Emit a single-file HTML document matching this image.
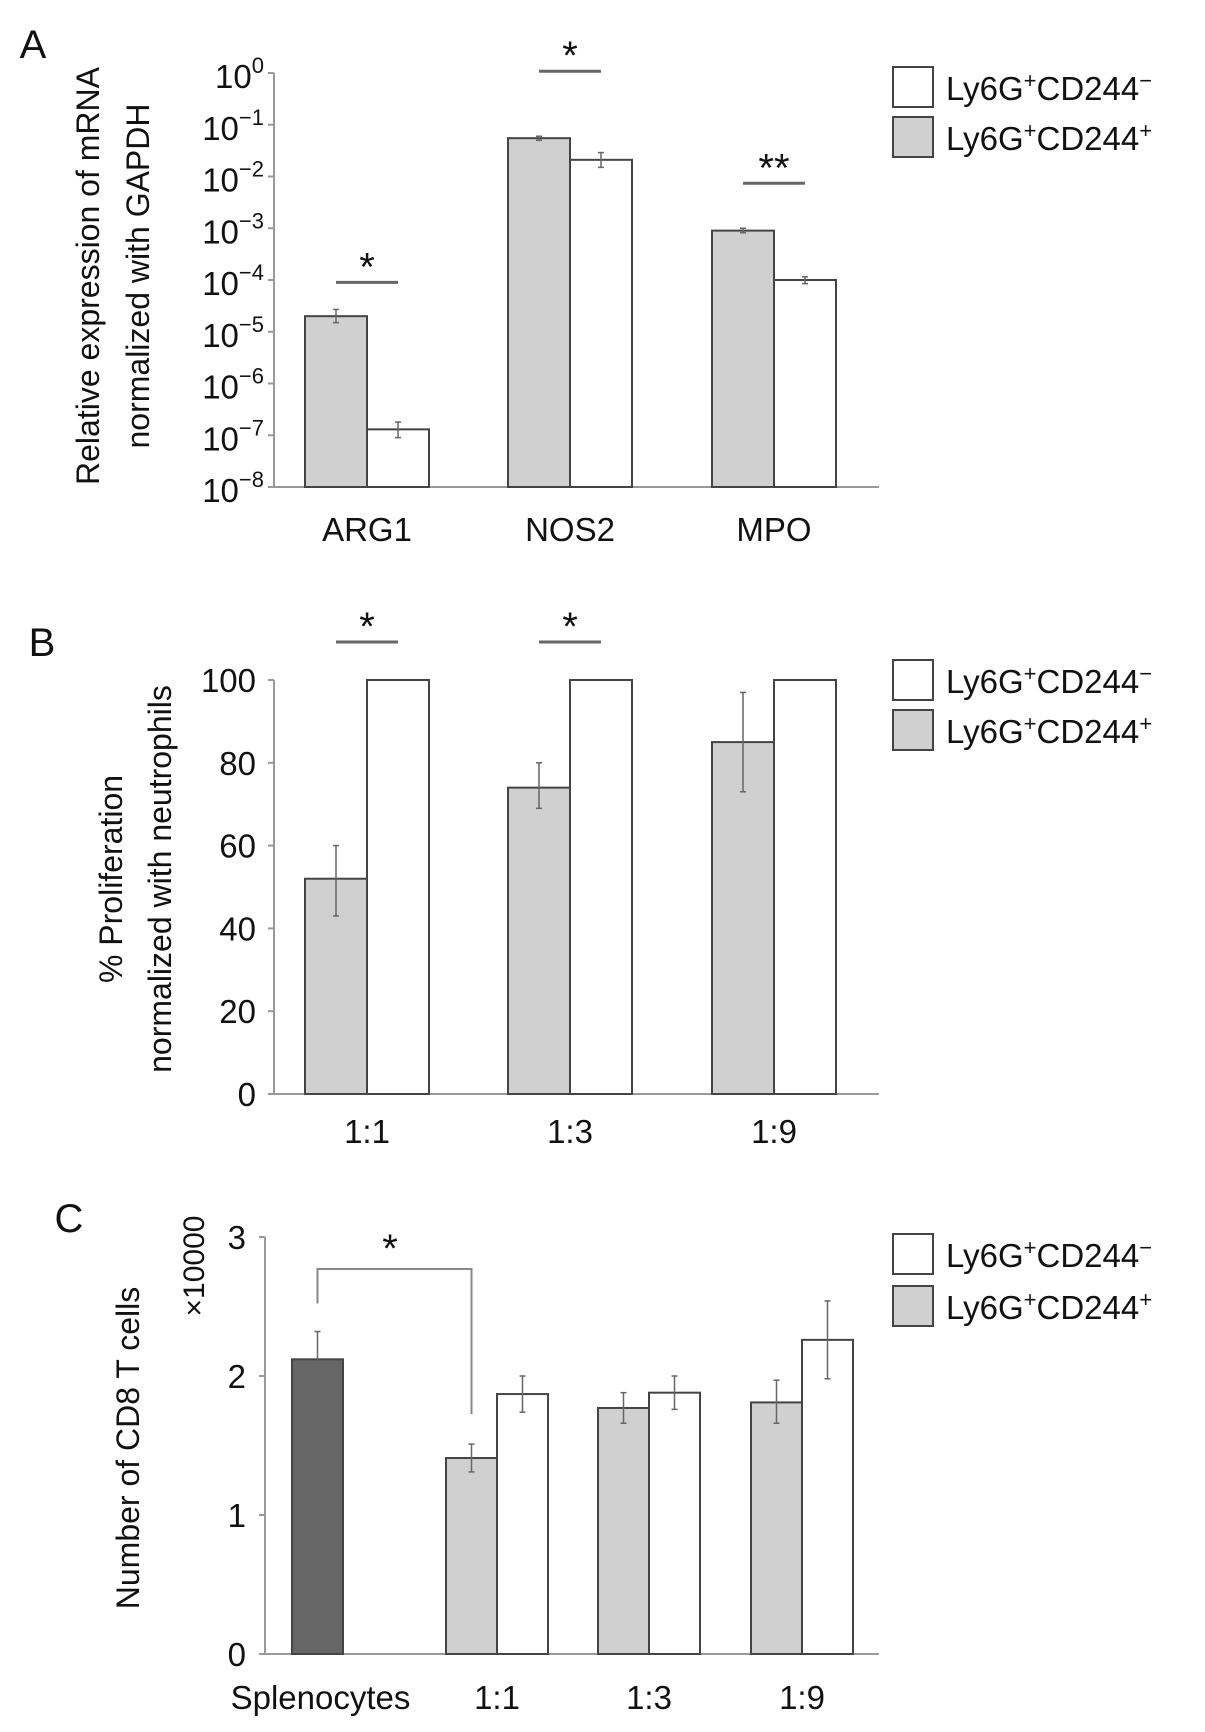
<!DOCTYPE html>
<html><head><meta charset="utf-8"><style>
html,body{margin:0;padding:0;background:#fff}
svg{display:block;font-family:"Liberation Sans",Arial,sans-serif}
</style></head><body>
<svg id="fig" width="1205" height="1732" viewBox="0 0 1205 1732" xmlns="http://www.w3.org/2000/svg"></svg>
<script>
// ---- Panel A data (log scale) ----
const aCats = ["ARG1","NOS2","MPO"];
const aPos = [2e-5, 0.055, 9e-4];
const aPosLo = [1.5e-5, 0.05, 8.2e-4];
const aPosHi = [2.7e-5, 0.06, 1.0e-3];
const aNeg = [1.3e-7, 0.021, 1.0e-4];
const aNegLo = [0.9e-7, 0.015, 0.85e-4];
const aNegHi = [1.8e-7, 0.029, 1.15e-4];
const aTickExp = [0,-1,-2,-3,-4,-5,-6,-7,-8];
const aSig = ["*","*","**"];
// ---- Panel B data ----
const bCats = ["1:1","1:3","1:9"];
const bPos = [52, 74, 85];
const bPosLo = [43, 69, 73];
const bPosHi = [60, 80, 97];
const bNeg = [100, 100, 100];
const bTicks = [0,20,40,60,80,100];
const bSig = ["*","*",""];
// ---- Panel C data ----
const cCats = ["Splenocytes","1:1","1:3","1:9"];
const cCtrl = 2.12, cCtrlLo = 1.93, cCtrlHi = 2.32;
const cPos = [1.41, 1.77, 1.81];
const cPosLo = [1.31, 1.66, 1.66];
const cPosHi = [1.51, 1.88, 1.97];
const cNeg = [1.87, 1.88, 2.26];
const cNegLo = [1.74, 1.76, 1.98];
const cNegHi = [2.0, 2.0, 2.54];
const cTicks = [0,1,2,3];

const svg = document.getElementById('fig');
const NS = "http://www.w3.org/2000/svg";
function mk(tag, at, parent){const e=document.createElementNS(NS,tag);for(const k in at)e.setAttribute(k,at[k]);(parent||svg).appendChild(e);return e;}
function txt(x,y,s,size,anchor,name,extra){const t=mk('text',Object.assign({x:x,y:y,'font-size':size,'text-anchor':anchor||'start',fill:'#111'},extra||{}));t.textContent=s;return t;}
function bar(x,w,y0,y1,fill,name){const r=mk('rect',{x:x,y:Math.min(y0,y1),width:w,height:Math.abs(y0-y1),fill:fill,stroke:'#444','stroke-width':2});return r;}
function err(x,ylo,yhi,name){const g=mk('g',{stroke:'#666','stroke-width':1.5});mk('line',{x1:x,x2:x,y1:ylo,y2:yhi},g);mk('line',{x1:x-3,x2:x+3,y1:ylo,y2:ylo},g);mk('line',{x1:x-3,x2:x+3,y1:yhi,y2:yhi},g);}
function axis(x,yTop,yBot,xEnd,name){const g=mk('g',{stroke:'#999','stroke-width':2});mk('line',{x1:x,x2:x,y1:yTop,y2:yBot},g);mk('line',{x1:x,x2:xEnd,y1:yBot,y2:yBot},g);return g;}
function legend(y1,y2,name){
  const g=mk('g',{});
  const r1=mk('rect',{x:893,y:y1,width:40,height:40,fill:'#fff',stroke:'#444','stroke-width':2},g);
  const r2=mk('rect',{x:893,y:y2,width:40,height:40,fill:'#d0d0d0',stroke:'#444','stroke-width':2},g);
  const t1=mk('text',{x:946,y:y1+33,'font-size':33,fill:'#111'},g);t1.innerHTML='Ly6G<tspan dy="-12" font-size="22">+</tspan><tspan dy="12">CD244</tspan><tspan dy="-12" font-size="22">−</tspan>';
  const t2=mk('text',{x:946,y:y2+33,'font-size':33,fill:'#111'},g);t2.innerHTML='Ly6G<tspan dy="-12" font-size="22">+</tspan><tspan dy="12">CD244</tspan><tspan dy="-12" font-size="22">+</tspan>';
}
const grpX = [305, 508, 712], bw = 62;

// ===== Panel A =====
txt(33,58,"A",40,'middle','panel-a-label');
const aTop=73, aBot=487;
const ya = v => aBot - (Math.log10(v)+8)/8*(aBot-aTop);
axis(274,aTop,aBot,879,'panel-a-axes');
aTickExp.forEach(e=>{const y=ya(Math.pow(10,e));mk('line',{x1:268,x2:274,y1:y,y2:y,stroke:'#999','stroke-width':2});
  const t=mk('text',{x:264,y:y+15,'font-size':33,'text-anchor':'end',fill:'#111'});t.innerHTML='10<tspan dy="-15" font-size="22">'+(e===0?'0':'−'+(-e))+'</tspan>';});
aCats.forEach((c,i)=>{const x=grpX[i];
  bar(x,bw,aBot,ya(aPos[i]),'#d0d0d0','a-bar-pos-'+c.toLowerCase());
  bar(x+bw,bw,aBot,ya(aNeg[i]),'#fff','a-bar-neg-'+c.toLowerCase());
  err(x+bw/2,ya(aPosLo[i]),ya(aPosHi[i]),'a-error-pos');
  err(x+bw*1.5,ya(aNegLo[i]),ya(aNegHi[i]),'a-error-neg');
  txt(x+bw,541,c,33,'middle','a-x-label-'+c.toLowerCase());
  const ly=Math.min(ya(aPosHi[i]),ya(aNegHi[i]))-(i==0?27:(i==1?65:45));
  const l=mk('line',{x1:x+31,x2:x+93,y1:ly,y2:ly,stroke:'#666','stroke-width':3});
  txt(x+bw,ly-2,aSig[i],40,'middle','a-sig-star');
});
txt(0,0,"Relative expression of mRNA",32,'middle','a-y-title-line1',{transform:'translate(99,276) rotate(-90)'});
txt(0,0,"normalized with GAPDH",32,'middle','a-y-title-line2',{transform:'translate(149,276) rotate(-90)'});
legend(67,117,'panel-a-legend');

// ===== Panel B =====
txt(42,656,"B",40,'middle','panel-b-label');
const bTop=680, bBot=1094;
const yb = v => bBot - v/100*(bBot-bTop);
axis(274,bTop,bBot,879,'panel-b-axes');
bTicks.forEach(v=>{const y=yb(v);mk('line',{x1:268,x2:274,y1:y,y2:y,stroke:'#999','stroke-width':2});txt(256,y+12,String(v),33,'end','b-y-tick-label');});
bCats.forEach((c,i)=>{const x=grpX[i];
  bar(x,bw,bBot,yb(bPos[i]),'#d0d0d0','b-bar-pos-'+i);
  bar(x+bw,bw,bBot,yb(bNeg[i]),'#fff','b-bar-neg-'+i);
  err(x+bw/2,yb(bPosLo[i]),yb(bPosHi[i]),'b-error-pos');
  txt(x+bw,1143,c,33,'middle','b-x-label-'+i);
  if(bSig[i]){const ly=yb(100)-38;const l=mk('line',{x1:x+31,x2:x+93,y1:ly,y2:ly,stroke:'#666','stroke-width':3});txt(x+bw,ly-2,bSig[i],40,'middle','b-sig-star');}
});
txt(0,0,"% Proliferation",32,'middle','b-y-title-line1',{transform:'translate(122,879) rotate(-90)'});
txt(0,0,"normalized with neutrophils",32,'middle','b-y-title-line2',{transform:'translate(171,879) rotate(-90)'});
legend(660,710,'panel-b-legend');

// ===== Panel C =====
txt(69,1232,"C",40,'middle','panel-c-label');
const cTop=1237, cBot=1654;
const yc = v => cBot - v/3*(cBot-cTop);
axis(265,cTop,cBot,879,'panel-c-axes');
cTicks.forEach(v=>{const y=yc(v);mk('line',{x1:259,x2:265,y1:y,y2:y,stroke:'#999','stroke-width':2});txt(246,y+12,String(v),33,'end','c-y-tick-label');});
const cw=51, cCtrlX=292, cGrpX=[446,598,751];
bar(cCtrlX,cw,cBot,yc(cCtrl),'#666','c-bar-splenocytes');
err(cCtrlX+cw/2,yc(cCtrlLo),yc(cCtrlHi),'c-error-splenocytes');
txt(cCtrlX+cw/2+3,1709,cCats[0],33,'middle','c-x-label-splenocytes');
cGrpX.forEach((x,i)=>{
  bar(x,cw,cBot,yc(cPos[i]),'#d0d0d0','c-bar-pos-'+i);
  bar(x+cw,cw,cBot,yc(cNeg[i]),'#fff','c-bar-neg-'+i);
  err(x+cw/2,yc(cPosLo[i]),yc(cPosHi[i]),'c-error-pos');
  err(x+cw*1.5,yc(cNegLo[i]),yc(cNegHi[i]),'c-error-neg');
  txt(x+cw,1709,cCats[i+1],33,'middle','c-x-label-'+i);
});
const br=mk('polyline',{points:`${cCtrlX+cw/2},${yc(cCtrlHi)-28} ${cCtrlX+cw/2},1269 ${cGrpX[0]+cw/2},1269 ${cGrpX[0]+cw/2},${yc(cPosHi[0])-30}`,fill:'none',stroke:'#888','stroke-width':2});

txt(390,1262,"*",40,'middle','c-sig-star');
txt(0,0,"Number of CD8 T cells",32,'middle','c-y-title',{transform:'translate(139,1448) rotate(-90)'});
txt(0,0,"×10000",30,'middle','c-y-unit',{transform:'translate(204,1266) rotate(-90)'});
legend(1234,1286,'panel-c-legend');
</script>
</body></html>
